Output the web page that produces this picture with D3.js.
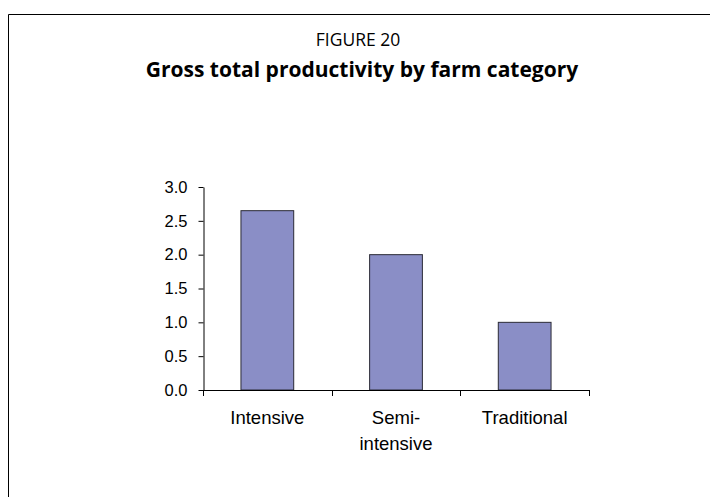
<!DOCTYPE html>
<html>
<head>
<meta charset="utf-8">
<script src="https://cdn.jsdelivr.net/npm/d3@7"></script>
<style>
  html, body { margin: 0; padding: 0; background: #fff; }
  svg { display: block; }
</style>
</head>
<body>
<script>
// Chart data
const categories = [["Intensive"], ["Semi-", "intensive"], ["Traditional"]];
const categoryKeys = ["Intensive", "Semi-intensive", "Traditional"];
const values = [2.65, 2.0, 1.0];
const yTicks = [0, 0.5, 1.0, 1.5, 2.0, 2.5, 3.0];

const W = 710, H = 497;
const svg = d3.select("body").append("svg").attr("width", W).attr("height", H);

// Frame around the figure (open at right and bottom edges)
svg.append("path")
  .attr("d", `M8.5,${H} L8.5,14.5 L${W},14.5`)
  .attr("fill", "none").attr("stroke", "#000").attr("stroke-width", 1);

// Titles
const titleFont = "Open Sans, Noto Sans, sans-serif";
svg.append("text").attr("x", 358).attr("y", 46).attr("text-anchor", "middle")
  .attr("font-family", titleFont).attr("font-size", 17.5)
  .attr("fill", "#000").text("FIGURE 20");
svg.append("text").attr("x", 362).attr("y", 77).attr("text-anchor", "middle")
  .attr("font-family", titleFont).attr("font-size", 21)
  .attr("font-weight", "bold").attr("fill", "#000").text("Gross total productivity by farm category");

const x0 = 203, x1 = 589, yTop = 187, yBot = 390;
const x = d3.scaleBand().domain(categoryKeys).range([x0, x1]).paddingInner(0.59).paddingOuter(0.295);
const y = d3.scaleLinear().domain([0, 3]).range([yBot, yTop]);

const font = "Liberation Sans, Arial, sans-serif";

// Bars
svg.append("g").selectAll("rect").data(values).join("rect")
  .attr("x", (d, i) => x(categoryKeys[i]))
  .attr("width", x.bandwidth())
  .attr("y", d => y(d))
  .attr("height", d => yBot - y(d))
  .attr("fill", "#8a8ec6")
  .attr("stroke", "#2a2a35").attr("stroke-width", 1);

// Y axis
const yAxis = svg.append("g").attr("transform", `translate(${x0 + 0.5},0)`)
  .call(d3.axisLeft(y).tickValues(yTicks).tickFormat(d3.format(".1f")).tickSize(5).tickSizeOuter(0));
yAxis.select(".domain").attr("stroke", "#000");
yAxis.selectAll("line").attr("stroke", "#000");
yAxis.selectAll("text").attr("font-family", font).attr("font-size", 16.5).attr("fill", "#000").attr("x", -16);

// X axis: ticks at band boundaries
const xAxisG = svg.append("g");
xAxisG.append("line").attr("x1", x0).attr("x2", x1).attr("y1", yBot + 0.5).attr("y2", yBot + 0.5).attr("stroke", "#000");
const step = x.step();
const boundaries = d3.range(categoryKeys.length + 1).map(i => x0 + i * step);
xAxisG.selectAll("line.tick").data(boundaries).join("line").attr("class", "tick")
  .attr("x1", d => Math.round(d) + 0.5).attr("x2", d => Math.round(d) + 0.5)
  .attr("y1", yBot).attr("y2", yBot + 6).attr("stroke", "#000");

// Category labels
categories.forEach((lines, i) => {
  const cx = x(categoryKeys[i]) + x.bandwidth() / 2;
  const t = svg.append("text").attr("text-anchor", "middle")
    .attr("font-family", font).attr("font-size", 18.5).attr("fill", "#000");
  lines.forEach((ln, j) => {
    t.append("tspan").attr("x", cx).attr("y", 424 + j * 26).text(ln);
  });
});
</script>
</body>
</html>
